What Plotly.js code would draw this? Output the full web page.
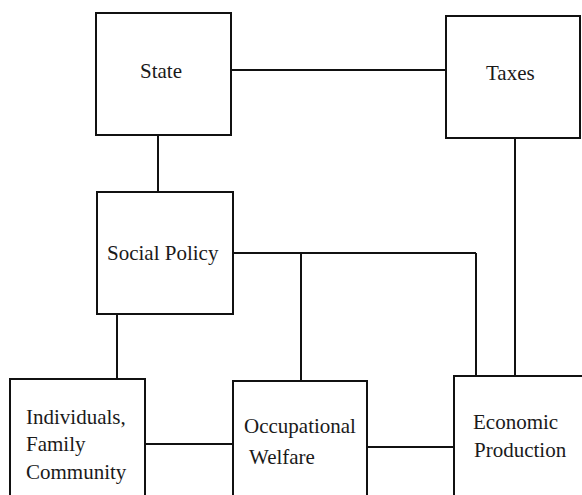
<!DOCTYPE html>
<html>
<head>
<meta charset="utf-8">
<script src="https://cdn.plot.ly/plotly-3.0.1.min.js"></script>
<style>html,body{margin:0;padding:0;background:#fff;}#chart{width:582px;height:495px;}</style>
</head>
<body>
<div id="chart"></div>
<script>
// Node boxes (diagram coordinates, y grows downward)
var nodeNames = ["State", "Taxes", "Social Policy", "Individuals", "Occupational", "Economic"];
var nodeX0 = [96, 446, 97, 10, 233, 454];
var nodeX1 = [231, 580, 233, 145, 367, 600];
var nodeY0 = [13, 16, 192, 379, 381, 376];
var nodeY1 = [135, 138, 314, 510, 510, 510];

// Connector segments
var edgeX0 = [231, 158, 515, 233, 301, 476, 117, 145, 367];
var edgeY0 = [70, 135, 138, 253, 253, 253, 314, 444, 447];
var edgeX1 = [446, 158, 515, 476, 301, 476, 117, 233, 454];
var edgeY1 = [70, 192, 376, 253, 381, 376, 379, 444, 447];

// Labels
var labelText = ["State", "Taxes", "Social Policy", "Individuals,<br>Family<br>Community", "Occupational", "Welfare", "Economic", "Production"];
var labelX = [161, 510, 163, 24, 242, 247, 515, 520];
var labelY = [71, 73, 253, 444, 426, 457, 422, 450];
var labelAnchor = ["center", "center", "center", "left", "left", "left", "center", "center"];

var lineColor = "#111111";
var shapes = [];
for (var i = 0; i < nodeNames.length; i++) {
  shapes.push({type: "rect", xref: "x", yref: "y", x0: nodeX0[i], x1: nodeX1[i], y0: nodeY0[i], y1: nodeY1[i],
    line: {color: lineColor, width: 2}, fillcolor: "rgba(0,0,0,0)"});
}
for (var j = 0; j < edgeX0.length; j++) {
  shapes.push({type: "line", xref: "x", yref: "y", x0: edgeX0[j], y0: edgeY0[j], x1: edgeX1[j], y1: edgeY1[j],
    line: {color: lineColor, width: 2}});
}
var annotations = [];
for (var k = 0; k < labelText.length; k++) {
  annotations.push({xref: "x", yref: "y", x: labelX[k], y: labelY[k], text: labelText[k], showarrow: false,
    xanchor: labelAnchor[k], yanchor: "middle", align: "left",
    font: {family: "Liberation Serif", size: 21, color: "#1a1a1a"}});
}

var layout = {
  width: 582, height: 495,
  margin: {l: 0, r: 0, t: 0, b: 0},
  paper_bgcolor: "#ffffff", plot_bgcolor: "#ffffff",
  xaxis: {range: [0, 582], visible: false, fixedrange: true},
  yaxis: {range: [495, 0], visible: false, fixedrange: true},
  showlegend: false,
  shapes: shapes,
  annotations: annotations
};
Plotly.newPlot("chart", [{x: [], y: [], type: "scatter", mode: "markers", hoverinfo: "skip"}], layout, {displayModeBar: false, staticPlot: true});
</script>
</body>
</html>
